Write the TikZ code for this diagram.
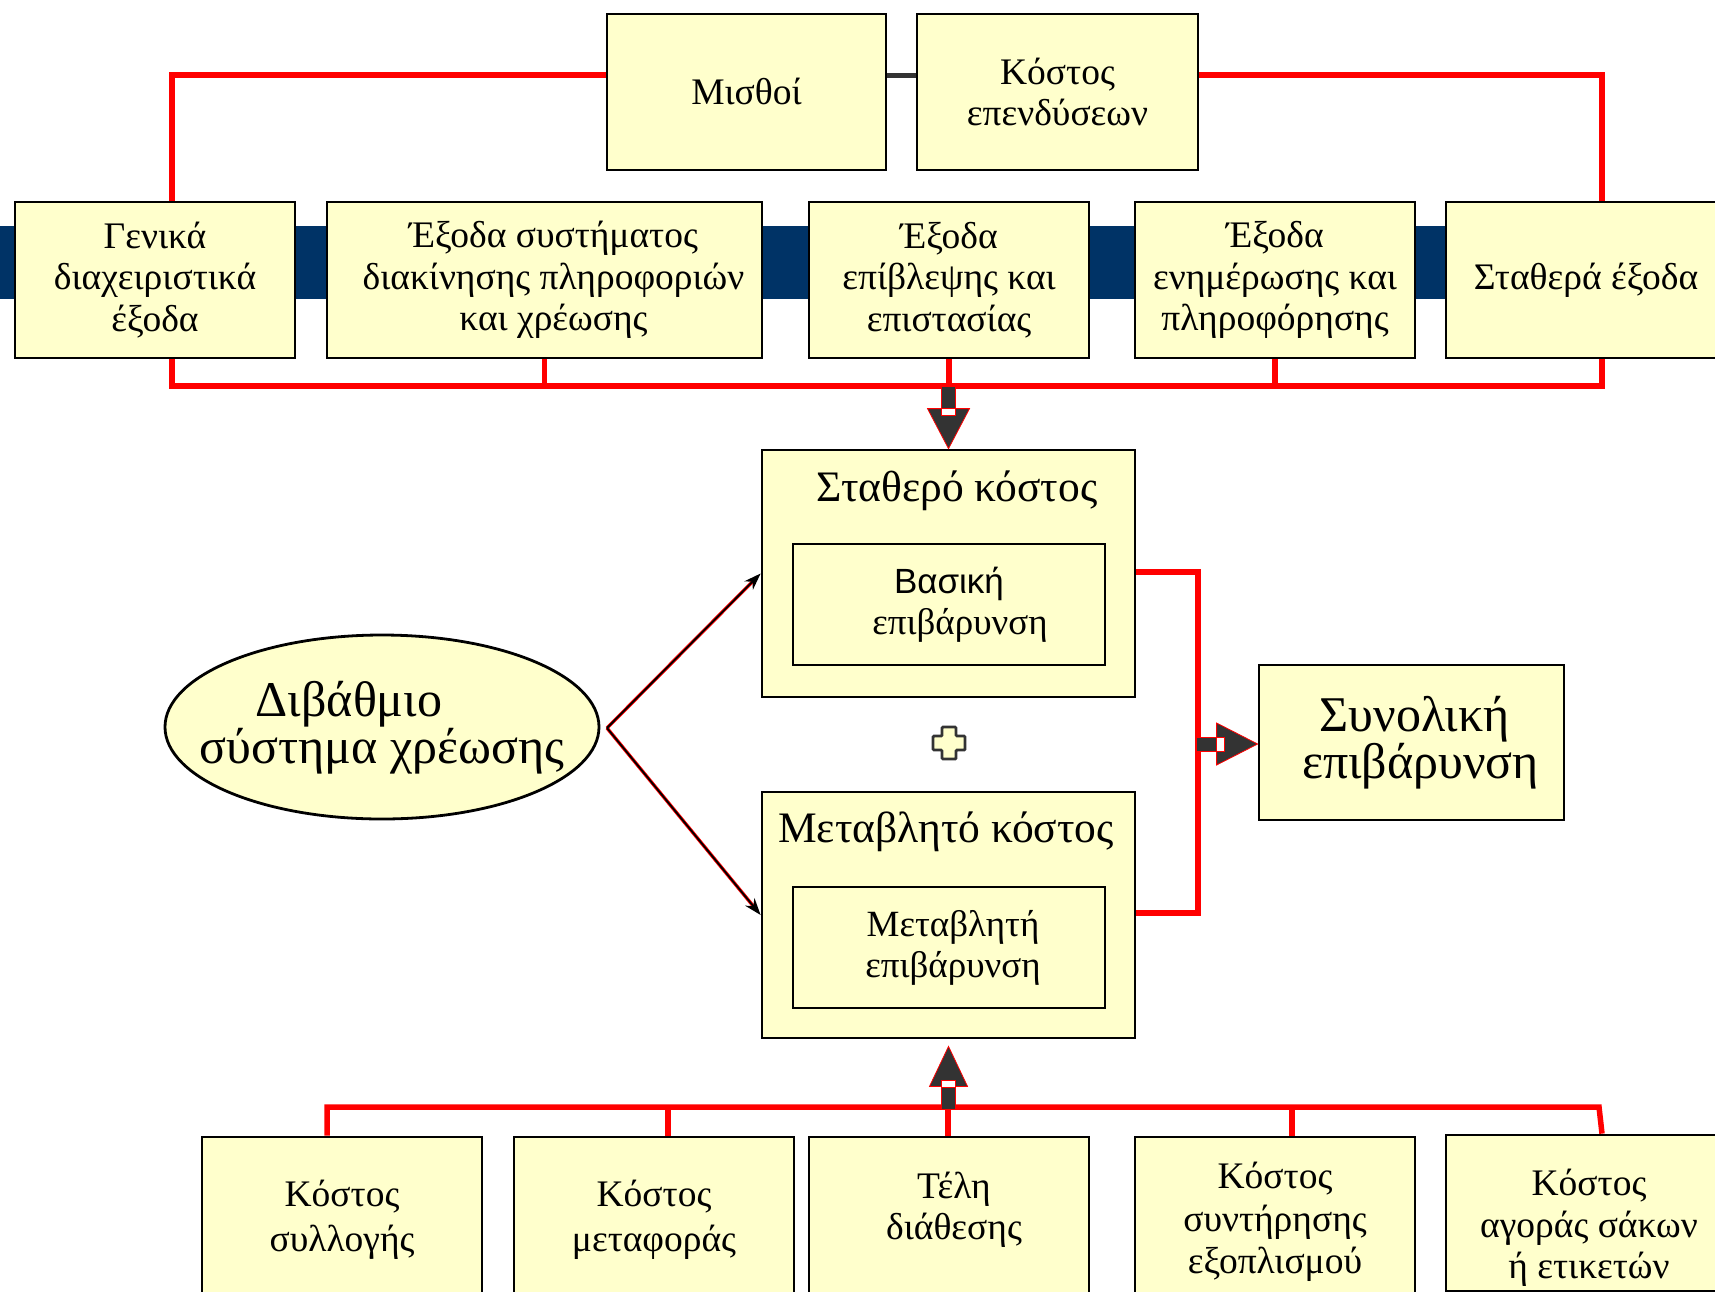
\documentclass[tikz,border=0pt]{standalone}
\usepackage{fontspec}
\setmainfont{Liberation Serif}
\newfontfamily\sansgr{Liberation Sans}
\usetikzlibrary{arrows.meta,shapes.geometric,calc}
\definecolor{boxfill}{HTML}{FFFFCC}
\definecolor{navyband}{HTML}{003366}
\definecolor{darkg}{HTML}{333333}
\definecolor{redl}{HTML}{FF0000}
\begin{document}
\begin{tikzpicture}[x=1pt,y=-1pt,
  box/.style={draw=black, line width=2.8pt, fill=boxfill, inner sep=0pt, align=center,
    minimum height=156pt, font=\fontsize{37.5}{41.5}\selectfont},
  txt/.style={inner sep=0pt, align=center, font=\fontsize{37.5}{41.5}\selectfont},
  inbox/.style={draw=black, line width=2.8pt, fill=boxfill, inner sep=0pt, align=center,
    minimum width=312pt, minimum height=121pt, font=\fontsize{37}{41}\selectfont},
  bigbox/.style={draw=black, line width=2.8pt, fill=boxfill, inner sep=0pt,
    minimum width=373pt},
  title/.style={inner sep=0pt, font=\fontsize{43.5}{46}\selectfont},
  redline/.style={draw=redl, line width=5.5pt},
  edgered/.style={draw=redl, line width=3.4pt, shorten >=6pt},
  edgeblk/.style={draw=black, line width=1.8pt, -{Stealth[length=17pt,width=12pt]}},
  blockarr/.style={fill=darkg, draw=redl, line width=0.8pt},
  gapmark/.style={fill=white, draw=redl, line width=0.8pt}
]
\useasboundingbox (0,0) rectangle (1715,1291);
\clip (0,0) rectangle (1715,1291);
\fill[white] (0,0) rectangle (1715,1291);

% navy band
\fill[navyband] (0,226) rectangle (1715,299);

% coordinates of red lines
\coordinate (ytop) at (0,75);
\coordinate (ybus) at (0,386);
\coordinate (xleft) at (172,0);
\coordinate (xright) at (1602,0);
\coordinate (xmid) at (1198,0);

% top boxes
\node[box, minimum width=279pt] (misthoi) at (746.5,92) {\raisebox{2pt}{Μισθοί}};
\node[box, minimum width=281pt] (kostos) at (1057.5,92) {Κόστος\\επενδύσεων};

\node[box, minimum width=280pt] (genika) at (155,280) {Γενικά\\διαχειριστικά\\έξοδα};
\node[box, minimum width=435pt] (systima) at (544.5,280) {\hspace*{18pt}Έξοδα συστήματος\\\hspace*{18pt}διακίνησης πληροφοριών\\\hspace*{18pt}και χρέωσης};
\node[box, minimum width=280pt] (epivl) at (949,280) {Έξοδα\\επίβλεψης και\\επιστασίας};
\node[box, minimum width=280pt] (enim) at (1275,280) {Έξοδα\\ενημέρωσης και\\πληροφόρησης};
\node[box, minimum width=280pt] (stathera) at (1586,280) {Σταθερά έξοδα};

% top connectors
\draw[redline] (misthoi.west |- ytop) -| (xleft |- genika.north);
\draw[draw=darkg, line width=5pt] (misthoi.east |- ytop) -- (kostos.west |- ytop);
\draw[redline] (kostos.east |- ytop) -| (xright |- stathera.north);

% bus under top row
\draw[redline] (xleft |- genika.south) -- (xleft |- ybus) -- (xright |- ybus) -- (xright |- stathera.south);
\draw[redline] (systima.south) -- (systima.south |- ybus);
\draw[redline] (epivl.south) -- (epivl.south |- ybus);
\draw[redline] (enim.south) -- (enim.south |- ybus);

% middle boxes
\node[bigbox, minimum height=247pt] (stathero) at (948.5,573.5) {};
\node[title] (statherot) at (957,491) {Σταθερό κόστος};
\node[inbox] (vasiki) at (949,604.5) {{\sansgr\fontsize{35}{40}\selectfont Βασική}\\\hspace*{22pt}επιβάρυνση};

\node[bigbox, minimum height=246pt] (metavl) at (948.5,915) {};
\node[title] (metavlt) at (946,832) {Μεταβλητό κόστος};
\node[inbox] (metavli) at (949,947.5) {\hspace*{8pt}Μεταβλητή\\\hspace*{8pt}επιβάρυνση};

\node[box, minimum width=305pt, minimum height=155pt, font=\fontsize{50}{47}\selectfont] (synoliki) at (1411.5,742.5) {\hspace*{6pt}Συνολική\\\hspace*{18pt}επιβάρυνση};

\node[draw=black, line width=2.8pt, fill=boxfill, ellipse, minimum width=434pt, minimum height=184pt,
  inner sep=0pt] (divath) at (382,727) {};
\node[txt, font=\fontsize{50}{44}\selectfont] (divatht) at (382,728)
  {\hspace*{-66pt}Διβάθμιο\\σύστημα χρέωσης};

% plus sign
\node[inner sep=0pt, minimum size=32pt] (plus) at (949,743) {};
\draw[draw=darkg, fill=boxfill, line width=2.8pt, rounded corners=1pt]
  ($(plus.center)+(-7,-16)$) -- ++(14,0) -- ++(0,9) -- ++(9,0) -- ++(0,14) -- ++(-9,0)
  -- ++(0,9) -- ++(-14,0) -- ++(0,-9) -- ++(-9,0) -- ++(0,-14) -- ++(9,0) -- cycle;

% arrows from ellipse
\coordinate (etip) at (607,728);
\draw[edgered] (etip) -- (stathero.west);
\draw[edgered] (etip) -- (metavl.west);
\draw[edgeblk] (etip) -- (stathero.west);
\draw[edgeblk] (etip) -- (metavl.west);

% red connector to total
\draw[redline] (stathero.east |- 0,572) -- (xmid |- 0,572) -- (xmid |- 0,913) -- (metavl.east |- 0,913);

% down block arrow
\draw[blockarr] ($(stathero.north)+(-7,-62)$) rectangle ($(stathero.north)+(7,-40)$);
\draw[blockarr] ($(stathero.north)+(-21,-40)$) -- ($(stathero.north)+(21,-40)$) -- (stathero.north) -- cycle;
\draw[gapmark] ($(stathero.north)+(-7,-40)$) rectangle ($(stathero.north)+(7,-33)$);

% right block arrow
\coordinate (rtip) at (synoliki.west |- 0,744);
\draw[blockarr] ($(rtip)+(-61,-7)$) rectangle ($(rtip)+(-41,7)$);
\draw[blockarr] ($(rtip)+(-41,-21)$) -- ($(rtip)+(-41,21)$) -- (rtip) -- cycle;
\draw[gapmark] ($(rtip)+(-41,-7)$) rectangle ($(rtip)+(-33,7)$);

% bottom boxes
\node[box, minimum width=280pt] (syllogi) at (342,1215) {};
\node[txt, font=\fontsize{37.5}{45}\selectfont] (syllogit) at (342,1220) {Κόστος\\συλλογής};
\node[box, minimum width=280pt] (metafora) at (654,1215) {};
\node[txt, font=\fontsize{37.5}{45}\selectfont] (metaforat) at (654,1220) {Κόστος\\μεταφοράς};
\node[box, minimum width=280pt] (teli) at (949,1215) {};
\node[txt] (telit) at (954,1210) {Τέλη\\διάθεσης};
\node[box, minimum width=280pt] (syntirisi) at (1275,1215) {};
\node[txt, font=\fontsize{37.5}{42.5}\selectfont] (syntirisit) at (1275,1222) {Κόστος\\συντήρησης\\εξοπλισμού};
\node[box, minimum width=280pt] (agora) at (1586,1213) {};
\node[txt] (agorat) at (1589,1228) {Κόστος\\αγοράς σάκων\\ή ετικετών};

% bottom bus
\draw[redline] (syllogi.north -| 327,0) -- (327,1107) -- (1599,1107) -- (agora.north -| 1602,0);
\draw[redline] (metafora.north -| 668,0) -- (668,1107);
\draw[redline] (teli.north -| 948,0) -- (948,1107);
\draw[redline] (syntirisi.north -| 1292,0) -- (1292,1107);

% up block arrow
\coordinate (utip) at (metavl.south);
\draw[blockarr] ($(utip)+(-7,48)$) rectangle ($(utip)+(7,70)$);
\draw[blockarr] ($(utip)+(-19,47)$) -- ($(utip)+(19,47)$) -- ($(utip)+(0,7)$) -- cycle;
\draw[gapmark] ($(utip)+(-7,41)$) rectangle ($(utip)+(7,48)$);
\end{tikzpicture}
\end{document}
